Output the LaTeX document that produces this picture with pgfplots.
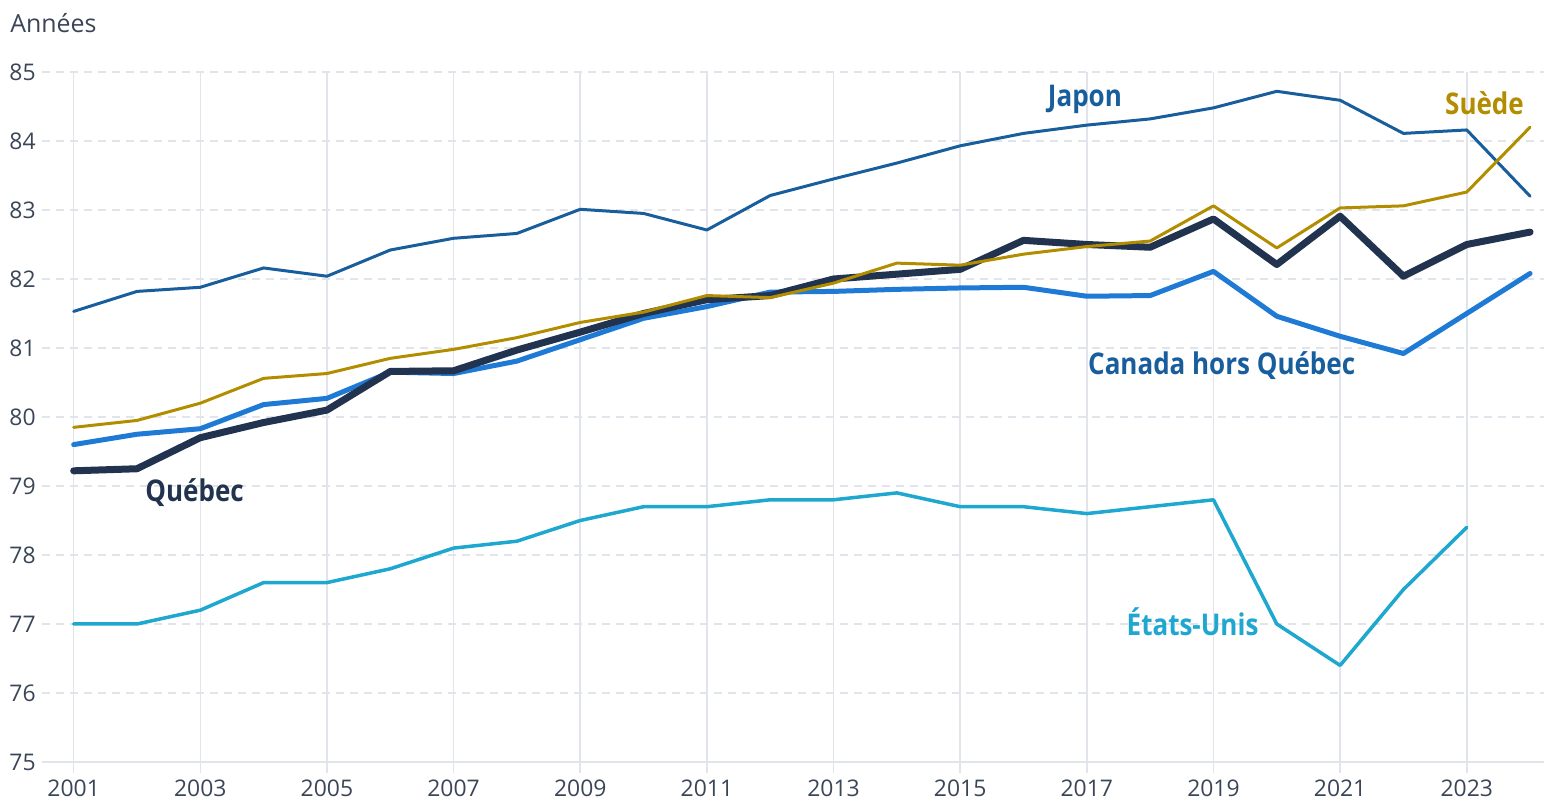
\documentclass[border=0pt]{standalone}
\usepackage{fontspec}
\setmainfont{Open Sans}
\newfontfamily\labfont[FakeStretch=0.87]{Open Sans}
\usepackage{pgfplots}
\pgfplotsset{compat=1.18}
\definecolor{japon}{HTML}{185E9C}
\definecolor{suede}{HTML}{B38D00}
\definecolor{quebec}{HTML}{22334F}
\definecolor{canada}{HTML}{1F7AD6}
\definecolor{usa}{HTML}{1EA7CF}
\definecolor{grid}{HTML}{E1E4EA}
\definecolor{txt}{HTML}{3A4658}
\begin{document}
\begin{tikzpicture}[x=1bp,y=1bp]
\begin{axis}[
  scale only axis,
  width=751bp, height=345bp,
  xmin=2000.5, xmax=2024.22,
  ymin=75, ymax=85,
  axis line style={draw=none},
  xtick={2001,2003,...,2023},
  ytick={75,76,...,85},
  xticklabel style={/pgf/number format/1000 sep=, font=\fontsize{11.5}{12}\selectfont, text=txt, inner sep=0pt, anchor=north, yshift=-3bp},
  yticklabel style={font=\fontsize{11.5}{12}\selectfont, text=txt, inner sep=0pt, anchor=east, xshift=2.5bp},
  /pgf/number format/assume math mode=true,
  major tick length=5.5bp,
  xtick style={draw=grid, line width=0.8bp},
  ytick style={draw=none},
  tick align=outside,
  xtick pos=bottom,
  grid=major,
  x grid style={draw=grid, line width=0.8bp},
  y grid style={draw=grid, line width=0.9bp, dash pattern=on 4bp off 3bp},
  clip=false,
  every axis plot/.append style={line join=round, line cap=round, mark=none},
]
\draw[grid, line width=0.9bp] (rel axis cs:0,0) -- (rel axis cs:1,0);
\addplot[usa, line width=1.75bp] coordinates {
(2001,77.0)(2002,77.0)(2003,77.2)(2004,77.6)(2005,77.6)(2006,77.8)(2007,78.1)(2008,78.2)
(2009,78.5)(2010,78.7)(2011,78.7)(2012,78.8)(2013,78.8)(2014,78.9)(2015,78.7)(2016,78.7)
(2017,78.6)(2018,78.7)(2019,78.8)(2020,77.0)(2021,76.4)(2022,77.5)(2023,78.4)};
\addplot[canada, line width=2.5bp] coordinates {
(2001,79.60)(2002,79.75)(2003,79.83)(2004,80.18)(2005,80.27)(2006,80.65)(2007,80.63)(2008,80.81)
(2009,81.12)(2010,81.43)(2011,81.60)(2012,81.81)(2013,81.82)(2014,81.85)(2015,81.87)(2016,81.88)
(2017,81.75)(2018,81.76)(2019,82.11)(2020,81.46)(2021,81.17)(2022,80.92)(2023,81.50)(2024,82.08)};
\addplot[quebec, line width=3.5bp] coordinates {
(2001,79.22)(2002,79.25)(2003,79.70)(2004,79.92)(2005,80.10)(2006,80.66)(2007,80.67)(2008,80.97)
(2009,81.23)(2010,81.50)(2011,81.70)(2012,81.76)(2013,82.00)(2014,82.07)(2015,82.14)(2016,82.56)
(2017,82.50)(2018,82.46)(2019,82.87)(2020,82.21)(2021,82.91)(2022,82.04)(2023,82.50)(2024,82.68)};
\addplot[japon, line width=1.5bp] coordinates {
(2001,81.53)(2002,81.82)(2003,81.88)(2004,82.16)(2005,82.04)(2006,82.42)(2007,82.59)(2008,82.66)
(2009,83.01)(2010,82.95)(2011,82.71)(2012,83.21)(2013,83.45)(2014,83.68)(2015,83.93)(2016,84.11)
(2017,84.23)(2018,84.32)(2019,84.48)(2020,84.72)(2021,84.59)(2022,84.11)(2023,84.16)(2024,83.20)};
\addplot[suede, line width=1.5bp] coordinates {
(2001,79.85)(2002,79.95)(2003,80.20)(2004,80.56)(2005,80.63)(2006,80.85)(2007,80.98)(2008,81.15)
(2009,81.37)(2010,81.52)(2011,81.76)(2012,81.73)(2013,81.94)(2014,82.23)(2015,82.20)(2016,82.36)
(2017,82.47)(2018,82.55)(2019,83.06)(2020,82.45)(2021,83.03)(2022,83.06)(2023,83.26)(2024,84.20)};
\node[japon, font=\labfont\fontsize{15}{16}\selectfont\bfseries] at (axis cs:2016.97,84.60) {Japon};
\node[suede, font=\labfont\fontsize{15}{16}\selectfont\bfseries] at (axis cs:2023.28,84.55) {Suède};
\node[japon, font=\labfont\fontsize{15}{16}\selectfont\bfseries] at (axis cs:2019.13,80.74) {Canada hors Québec};
\node[quebec, font=\labfont\fontsize{15}{16}\selectfont\bfseries] at (axis cs:2002.91,78.90) {Québec};
\node[usa, font=\labfont\fontsize{15}{16}\selectfont\bfseries] at (axis cs:2018.67,77.03) {États-Unis};
\node[txt, font=\fontsize{12.5}{13}\selectfont, anchor=base west, inner sep=0pt] at ([xshift=-16bp,yshift=19.5bp]rel axis cs:0,1) {Années};
\coordinate (bl) at ([xshift=-21bp,yshift=-20bp]rel axis cs:0,0);
\coordinate (tr) at ([yshift=36bp]rel axis cs:1,1);
\end{axis}
\pgfresetboundingbox
\path[use as bounding box] (bl) rectangle (tr);
\end{tikzpicture}
\end{document}
